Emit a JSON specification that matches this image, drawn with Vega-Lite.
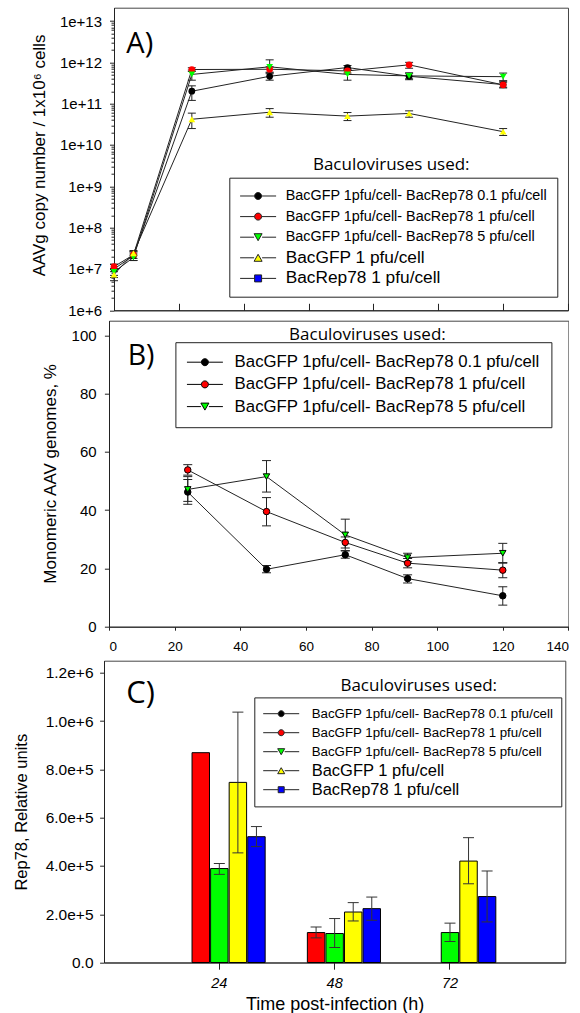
{
  "$schema": "https://vega.github.io/schema/vega-lite/v6.json",
  "padding": {"left": 0, "top": 6.7, "right": 0, "bottom": 0},
  "background": "white",
  "config": {
    "view": {"stroke": "#444", "strokeWidth": 1},
    "axis": {"grid": false, "domainColor": "#222", "tickColor": "#222", "labelColor": "#000", "titleColor": "#000", "labelFont": "Liberation Sans", "titleFont": "Liberation Sans", "titleFontWeight": "normal", "labelOverlap": false},
    "legend": {"labelFont": "Liberation Sans", "labelColor": "#000"},
    "text": {"font": "Open Sans", "color": "#000"}
  },
  "datasets": {
    "a": [
      {"t": 0, "s": "BacGFP 1pfu/cell- BacRep78 0.1 pfu/cell", "v": 1.0e7, "lo": 5.2e6, "hi": 1.3e7},
      {"t": 0, "s": "BacGFP 1pfu/cell- BacRep78 1 pfu/cell", "v": 1.14e7, "lo": 1.0e7, "hi": 1.3e7},
      {"t": 0, "s": "BacGFP 1pfu/cell- BacRep78 5 pfu/cell", "v": 8.5e6, "lo": 7.0e6, "hi": 1.0e7},
      {"t": 0, "s": "BacGFP 1 pfu/cell", "v": 7.3e6, "lo": 6.2e6, "hi": 8.6e6},
      {"t": 6, "s": "BacGFP 1pfu/cell- BacRep78 0.1 pfu/cell", "v": 2.1e7, "lo": 1.6e7, "hi": 2.6e7},
      {"t": 6, "s": "BacGFP 1pfu/cell- BacRep78 1 pfu/cell", "v": 2.2e7, "lo": 1.8e7, "hi": 2.6e7},
      {"t": 6, "s": "BacGFP 1pfu/cell- BacRep78 5 pfu/cell", "v": 1.9e7, "lo": 1.6e7, "hi": 2.3e7},
      {"t": 6, "s": "BacGFP 1 pfu/cell", "v": 2.4e7, "lo": 2.1e7, "hi": 2.8e7},
      {"t": 24, "s": "BacGFP 1pfu/cell- BacRep78 0.1 pfu/cell", "v": 2.0e11, "lo": 1.2e11, "hi": 2.7e11},
      {"t": 24, "s": "BacGFP 1pfu/cell- BacRep78 1 pfu/cell", "v": 6.7e11, "lo": 6.0e11, "hi": 7.4e11},
      {"t": 24, "s": "BacGFP 1pfu/cell- BacRep78 5 pfu/cell", "v": 5.1e11, "lo": 3.7e11, "hi": 6.5e11},
      {"t": 24, "s": "BacGFP 1 pfu/cell", "v": 4.2e10, "lo": 2.5e10, "hi": 5.9e10},
      {"t": 48, "s": "BacGFP 1pfu/cell- BacRep78 0.1 pfu/cell", "v": 4.6e11, "lo": 3.7e11, "hi": 5.6e11},
      {"t": 48, "s": "BacGFP 1pfu/cell- BacRep78 1 pfu/cell", "v": 6.8e11, "lo": 5.8e11, "hi": 7.8e11},
      {"t": 48, "s": "BacGFP 1pfu/cell- BacRep78 5 pfu/cell", "v": 7.8e11, "lo": 5.3e11, "hi": 1.15e12},
      {"t": 48, "s": "BacGFP 1 pfu/cell", "v": 6.2e10, "lo": 4.7e10, "hi": 7.6e10},
      {"t": 72, "s": "BacGFP 1pfu/cell- BacRep78 0.1 pfu/cell", "v": 7.5e11, "lo": 6.6e11, "hi": 8.4e11},
      {"t": 72, "s": "BacGFP 1pfu/cell- BacRep78 1 pfu/cell", "v": 6.2e11, "lo": 5.5e11, "hi": 7.0e11},
      {"t": 72, "s": "BacGFP 1pfu/cell- BacRep78 5 pfu/cell", "v": 5.1e11, "lo": 3.7e11, "hi": 6.5e11},
      {"t": 72, "s": "BacGFP 1 pfu/cell", "v": 5.0e10, "lo": 3.9e10, "hi": 6.1e10},
      {"t": 91, "s": "BacGFP 1pfu/cell- BacRep78 0.1 pfu/cell", "v": 4.6e11, "lo": 4.0e11, "hi": 5.3e11},
      {"t": 91, "s": "BacGFP 1pfu/cell- BacRep78 1 pfu/cell", "v": 8.7e11, "lo": 7.2e11, "hi": 1.0e12},
      {"t": 91, "s": "BacGFP 1pfu/cell- BacRep78 5 pfu/cell", "v": 4.7e11, "lo": 3.8e11, "hi": 5.6e11},
      {"t": 91, "s": "BacGFP 1 pfu/cell", "v": 5.8e10, "lo": 4.7e10, "hi": 6.7e10},
      {"t": 120, "s": "BacGFP 1pfu/cell- BacRep78 0.1 pfu/cell", "v": 2.9e11, "lo": 2.5e11, "hi": 3.3e11},
      {"t": 120, "s": "BacGFP 1pfu/cell- BacRep78 1 pfu/cell", "v": 2.85e11, "lo": 2.4e11, "hi": 3.5e11},
      {"t": 120, "s": "BacGFP 1pfu/cell- BacRep78 5 pfu/cell", "v": 4.5e11, "lo": 3.6e11, "hi": 5.5e11},
      {"t": 120, "s": "BacGFP 1 pfu/cell", "v": 2.1e10, "lo": 1.7e10, "hi": 2.5e10}
    ],
    "b": [
      {"t": 24, "s": "BacGFP 1pfu/cell- BacRep78 0.1 pfu/cell", "v": 46.2, "lo": 42, "hi": 50.5},
      {"t": 24, "s": "BacGFP 1pfu/cell- BacRep78 1 pfu/cell", "v": 53.8, "lo": 52, "hi": 55.6},
      {"t": 24, "s": "BacGFP 1pfu/cell- BacRep78 5 pfu/cell", "v": 47.1, "lo": 43, "hi": 51.5},
      {"t": 48, "s": "BacGFP 1pfu/cell- BacRep78 0.1 pfu/cell", "v": 19.7, "lo": 18.5, "hi": 21},
      {"t": 48, "s": "BacGFP 1pfu/cell- BacRep78 1 pfu/cell", "v": 39.5, "lo": 34.6, "hi": 44.3},
      {"t": 48, "s": "BacGFP 1pfu/cell- BacRep78 5 pfu/cell", "v": 51.5, "lo": 46.2, "hi": 57},
      {"t": 72, "s": "BacGFP 1pfu/cell- BacRep78 0.1 pfu/cell", "v": 24.7, "lo": 23.5, "hi": 26},
      {"t": 72, "s": "BacGFP 1pfu/cell- BacRep78 1 pfu/cell", "v": 28.9, "lo": 27, "hi": 30.8},
      {"t": 72, "s": "BacGFP 1pfu/cell- BacRep78 5 pfu/cell", "v": 31.5, "lo": 26.1, "hi": 36.9},
      {"t": 91, "s": "BacGFP 1pfu/cell- BacRep78 0.1 pfu/cell", "v": 16.5, "lo": 15, "hi": 17.8},
      {"t": 91, "s": "BacGFP 1pfu/cell- BacRep78 1 pfu/cell", "v": 21.8, "lo": 20.2, "hi": 23.4},
      {"t": 91, "s": "BacGFP 1pfu/cell- BacRep78 5 pfu/cell", "v": 23.7, "lo": 22.3, "hi": 25.2},
      {"t": 120, "s": "BacGFP 1pfu/cell- BacRep78 0.1 pfu/cell", "v": 10.6, "lo": 7.4, "hi": 13.7},
      {"t": 120, "s": "BacGFP 1pfu/cell- BacRep78 1 pfu/cell", "v": 19.4, "lo": 16.8, "hi": 22},
      {"t": 120, "s": "BacGFP 1pfu/cell- BacRep78 5 pfu/cell", "v": 25.2, "lo": 21.8, "hi": 28.6}
    ],
    "c": [
      {"t": "24", "s": "BacGFP 1pfu/cell- BacRep78 1 pfu/cell", "v": 869000, "lo": null, "hi": null},
      {"t": "24", "s": "BacGFP 1pfu/cell- BacRep78 5 pfu/cell", "v": 389000, "lo": 365000, "hi": 410000},
      {"t": "24", "s": "BacGFP 1 pfu/cell", "v": 746000, "lo": 454000, "hi": 1037000},
      {"t": "24", "s": "BacRep78 1 pfu/cell", "v": 521000, "lo": 480000, "hi": 563000},
      {"t": "48", "s": "BacGFP 1pfu/cell- BacRep78 1 pfu/cell", "v": 124000, "lo": 102000, "hi": 147000},
      {"t": "48", "s": "BacGFP 1pfu/cell- BacRep78 5 pfu/cell", "v": 120000, "lo": 62000, "hi": 182000},
      {"t": "48", "s": "BacGFP 1 pfu/cell", "v": 209000, "lo": 172000, "hi": 248000},
      {"t": "48", "s": "BacRep78 1 pfu/cell", "v": 223000, "lo": 175000, "hi": 271000},
      {"t": "72", "s": "BacGFP 1pfu/cell- BacRep78 5 pfu/cell", "v": 124000, "lo": 87000, "hi": 163000},
      {"t": "72", "s": "BacGFP 1 pfu/cell", "v": 420000, "lo": 326000, "hi": 517000},
      {"t": "72", "s": "BacRep78 1 pfu/cell", "v": 273000, "lo": 168000, "hi": 379000}
    ]
  },
  "spacing": 0,
  "resolve": {"scale": {"fill": "independent", "shape": "independent"}},
  "vconcat": [
    {
      "spacing": 0,
      "resolve": {"scale": {"fill": "independent", "shape": "independent"}},
      "hconcat": [
        {"width": 29.7, "height": 311.6, "data": {"values": []}, "mark": "point", "encoding": {}, "view": {"stroke": null}},
        {
          "width": 454, "height": 302.6,
          "resolve": {"axis": {"y": "independent"}},
          "layer": [
            {
              "data": {"name": "a"},
              "mark": {"type": "line", "color": "#222", "strokeWidth": 1},
              "encoding": {
                "x": {"field": "t", "type": "quantitative", "scale": {"domain": [0, 140], "nice": false, "zero": false},
                      "axis": {"values": [0, 20, 40, 60, 80, 100, 120, 140], "labels": false, "tickSize": -7, "title": null}},
                "y": {"field": "v", "type": "quantitative", "scale": {"type": "log", "domain": [1e6, 2.1e13], "nice": false},
                      "axis": {"values": [1e6, 1e7, 1e8, 1e9, 1e10, 1e11, 1e12, 1e13], "labelExpr": "format(datum.value, '~e')",
                               "labelFontSize": 15, "labelPadding": 8, "tickSize": 4.5,
                               "title": "AAVg copy number / 1x10⁶ cells", "titleFontSize": 17, "titleX": -69.4, "titleY": 147.3,
                               "titleAngle": 270, "titleAlign": "center", "titleBaseline": "alphabetic"}},
                "detail": {"field": "s"}
              }
            },
            {
              "data": {"name": "a"},
              "mark": {"type": "rule", "color": "#222", "strokeWidth": 1},
              "encoding": {"x": {"field": "t", "type": "quantitative"},
                           "y": {"field": "lo", "type": "quantitative",
                                 "axis": {"orient": "left", "values": [2e6,3e6,4e6,5e6,6e6,7e6,8e6,9e6,2e7,3e7,4e7,5e7,6e7,7e7,8e7,9e7,2e8,3e8,4e8,5e8,6e8,7e8,8e8,9e8,2e9,3e9,4e9,5e9,6e9,7e9,8e9,9e9,2e10,3e10,4e10,5e10,6e10,7e10,8e10,9e10,2e11,3e11,4e11,5e11,6e11,7e11,8e11,9e11,2e12,3e12,4e12,5e12,6e12,7e12,8e12,9e12],
                                          "labels": false, "domain": false, "tickSize": 3, "title": null}},
                           "y2": {"field": "hi"}}
            },
            {
              "data": {"name": "a"},
              "mark": {"type": "tick", "orient": "horizontal", "size": 8, "thickness": 1, "color": "#222", "opacity": 1},
              "encoding": {"x": {"field": "t", "type": "quantitative"}, "y": {"field": "lo", "type": "quantitative", "axis": null}}
            },
            {
              "data": {"name": "a"},
              "mark": {"type": "tick", "orient": "horizontal", "size": 8, "thickness": 1, "color": "#222", "opacity": 1},
              "encoding": {"x": {"field": "t", "type": "quantitative"}, "y": {"field": "hi", "type": "quantitative", "axis": null}}
            },
            {
              "data": {"name": "a"},
              "mark": {"type": "point", "filled": true, "size": 45, "opacity": 1, "strokeWidth": 0},
              "encoding": {
                "x": {"field": "t", "type": "quantitative"},
                "y": {"field": "v", "type": "quantitative", "axis": null},
                "fill": {"field": "s", "type": "nominal",
                  "scale": {"domain": ["BacGFP 1pfu/cell- BacRep78 0.1 pfu/cell", "BacGFP 1pfu/cell- BacRep78 1 pfu/cell", "BacGFP 1pfu/cell- BacRep78 5 pfu/cell", "BacGFP 1 pfu/cell", "BacRep78 1 pfu/cell"],
                            "range": ["#000000", "#ff0000", "#00ff00", "#ffff00", "#0000ff"]},
                  "legend": {"orient": "none", "legendX": 115.3, "legendY": 170, "title": null, "direction": "vertical",
                    "strokeColor": "#222", "padding": 9.3, "clipHeight": 18, "symbolSize": 4, "symbolStrokeColor": "#222", "symbolStrokeWidth": 1,
                    "symbolOffset": 12.3, "labelOffset": 20.4, "rowPadding": 2.6, "labelFontSize": 14.4, "labelLimit": 500,
                    "encoding": {
                      "labels": {"fontSize": {"value": {"expr": "datum.index >= 3 ? 17.3 : 14.4"}}},
                      "symbols": {"shape": {"value": {"expr": "['M-18,0H-3.5M3.5,0H18M-3.5,0A3.5,3.5,0,1,0,3.5,0A3.5,3.5,0,1,0,-3.5,0Z','M-18,0H-3.5M3.5,0H18M-3.5,0A3.5,3.5,0,1,0,3.5,0A3.5,3.5,0,1,0,-3.5,0Z','M-18,0H-4M4,0H18M-4,-3.5L4,-3.5L0,3.5Z','M-18,0H-4M4,0H18M-4,3.5L4,3.5L0,-3.5Z','M-18,0H-3.5M3.5,0H18M-3.5,-3.5H3.5V3.5H-3.5Z'][datum.index]"}}}
                    }}},
                "shape": {"field": "s", "type": "nominal",
                  "scale": {"domain": ["BacGFP 1 pfu/cell", "BacGFP 1pfu/cell- BacRep78 0.1 pfu/cell", "BacGFP 1pfu/cell- BacRep78 1 pfu/cell", "BacGFP 1pfu/cell- BacRep78 5 pfu/cell", "BacRep78 1 pfu/cell"],
                            "range": ["triangle-up", "circle", "circle", "triangle-down", "square"]},
                  "legend": null}
              }
            },
            {
              "data": {"values": [{}]},
              "mark": {"type": "text", "fontSize": 17, "align": "center", "baseline": "alphabetic"},
              "encoding": {"x": {"datum": 85.5}, "y": {"datum": 2.46e9, "axis": null}, "text": {"value": "Baculoviruses used:"}}
            },
            {
              "data": {"values": [{}]},
              "mark": {"type": "text", "fontSize": 29, "align": "left", "baseline": "alphabetic"},
              "encoding": {"x": {"datum": 3.8}, "y": {"datum": 1.73e12, "axis": null}, "text": {"value": "A)"}}
            }
          ]
        }
      ]
    },
    {
      "spacing": 0,
      "resolve": {"scale": {"fill": "independent", "shape": "independent"}},
      "hconcat": [
        {"width": 39.7, "height": 338.2, "data": {"values": []}, "mark": "point", "encoding": {}, "view": {"stroke": null}},
        {
          "width": 459.4, "height": 306,
          "layer": [
            {
              "data": {"name": "b"},
              "mark": {"type": "line", "color": "#222", "strokeWidth": 1},
              "encoding": {
                "x": {"field": "t", "type": "quantitative", "scale": {"domain": [0, 140], "nice": false, "zero": false},
                      "axis": {"values": [0, 20, 40, 60, 80, 100, 120, 140], "labelFontSize": 13.5, "tickSize": 3.5, "labelPadding": 9, "title": null}},
                "y": {"field": "v", "type": "quantitative", "scale": {"domain": [0, 105], "nice": false},
                      "axis": {"values": [0, 20, 40, 60, 80, 100], "labelFontSize": 15, "labelPadding": 8.3, "tickSize": 4.6,
                               "title": "Monomeric AAV genomes, %", "titleFontSize": 17, "titleX": -54, "titleY": 152.7,
                               "titleAngle": 270, "titleAlign": "center", "titleBaseline": "alphabetic"}},
                "detail": {"field": "s"}
              }
            },
            {
              "data": {"name": "b"},
              "mark": {"type": "rule", "color": "#222", "strokeWidth": 1},
              "encoding": {"x": {"field": "t", "type": "quantitative"}, "y": {"field": "lo", "type": "quantitative"}, "y2": {"field": "hi"}}
            },
            {
              "data": {"name": "b"},
              "mark": {"type": "tick", "orient": "horizontal", "size": 9, "thickness": 1, "color": "#222", "opacity": 1},
              "encoding": {"x": {"field": "t", "type": "quantitative"}, "y": {"field": "lo", "type": "quantitative"}}
            },
            {
              "data": {"name": "b"},
              "mark": {"type": "tick", "orient": "horizontal", "size": 9, "thickness": 1, "color": "#222", "opacity": 1},
              "encoding": {"x": {"field": "t", "type": "quantitative"}, "y": {"field": "hi", "type": "quantitative"}}
            },
            {
              "data": {"name": "b"},
              "mark": {"type": "point", "filled": true, "size": 42, "opacity": 1, "stroke": "#000", "strokeWidth": 1},
              "encoding": {
                "x": {"field": "t", "type": "quantitative"},
                "y": {"field": "v", "type": "quantitative"},
                "fill": {"field": "s", "type": "nominal",
                  "scale": {"domain": ["BacGFP 1pfu/cell- BacRep78 0.1 pfu/cell", "BacGFP 1pfu/cell- BacRep78 1 pfu/cell", "BacGFP 1pfu/cell- BacRep78 5 pfu/cell"],
                            "range": ["#000000", "#ff0000", "#00ff00"]},
                  "legend": {"orient": "none", "legendX": 66.4, "legendY": 21.5, "title": null, "direction": "vertical",
                    "strokeColor": "#222", "padding": 11, "clipHeight": 18, "symbolSize": 4, "symbolStrokeColor": "#000", "symbolStrokeWidth": 1,
                    "symbolOffset": 10.1, "labelOffset": 21.3, "rowPadding": 4.2, "labelFontSize": 16.8, "labelLimit": 500,
                    "encoding": {
                      "symbols": {"shape": {"value": {"expr": "['M-18,0H-3.5M3.5,0H18M-3.5,0A3.5,3.5,0,1,0,3.5,0A3.5,3.5,0,1,0,-3.5,0Z','M-18,0H-3.5M3.5,0H18M-3.5,0A3.5,3.5,0,1,0,3.5,0A3.5,3.5,0,1,0,-3.5,0Z','M-18,0H-4M4,0H18M-4,-3.5L4,-3.5L0,3.5Z'][datum.index]"}}}
                    }}},
                "shape": {"field": "s", "type": "nominal",
                  "scale": {"domain": ["BacGFP 1pfu/cell- BacRep78 5 pfu/cell", "BacGFP 1pfu/cell- BacRep78 0.1 pfu/cell", "BacGFP 1pfu/cell- BacRep78 1 pfu/cell"],
                            "range": ["triangle-down", "circle", "circle"]},
                  "legend": null}
              }
            },
            {
              "data": {"values": [{}]},
              "mark": {"type": "text", "fontSize": 17, "align": "center", "baseline": "alphabetic"},
              "encoding": {"x": {"datum": 78.75}, "y": {"datum": 98.5}, "text": {"value": "Baculoviruses used:"}}
            },
            {
              "data": {"values": [{}]},
              "mark": {"type": "text", "fontSize": 28.5, "align": "left", "baseline": "alphabetic"},
              "encoding": {"x": {"datum": 5.7}, "y": {"datum": 89.9}, "text": {"value": "B)"}}
            }
          ]
        }
      ]
    },
    {
      "spacing": 0,
      "resolve": {"scale": {"fill": "independent", "shape": "independent"}},
      "hconcat": [
        {"width": 11.8, "height": 1, "data": {"values": []}, "mark": "point", "encoding": {}, "view": {"stroke": null}},
        {
          "width": 461.3, "height": 301.8,
          "resolve": {"scale": {"x": "independent"}},
          "layer": [
            {
              "data": {"name": "c"},
              "encoding": {
                "x": {"field": "t", "type": "nominal", "scale": {"domain": ["24", "48", "72"], "paddingInner": 0.205, "paddingOuter": 0.6025},
                      "axis": {"labelAngle": 0, "labelFontSize": 14.5, "labelFontStyle": "italic", "tickSize": 6.7, "labelPadding": 7.3,
                               "title": "Time post-infection (h)", "titleFontSize": 18, "titlePadding": 6}},
                "xOffset": {"field": "s", "type": "nominal", "scale": {"domain": ["BacGFP 1pfu/cell- BacRep78 0.1 pfu/cell", "BacGFP 1pfu/cell- BacRep78 1 pfu/cell", "BacGFP 1pfu/cell- BacRep78 5 pfu/cell", "BacGFP 1 pfu/cell", "BacRep78 1 pfu/cell"], "paddingInner": 0.06, "paddingOuter": 0}},
                "y": {"field": "v", "type": "quantitative", "scale": {"domain": [0, 1250000], "nice": false},
                      "axis": {"values": [0, 200000, 400000, 600000, 800000, 1000000, 1200000],
                               "labelExpr": "datum.value == 0 ? '0.0' : format(datum.value, '.1e')",
                               "labelFontSize": 15.5, "labelPadding": 6.6, "tickSize": 4.4,
                               "title": "Rep78, Relative units", "titleFontSize": 16.5, "titleX": -77.7, "titleY": 151,
                               "titleAngle": 270, "titleAlign": "center", "titleBaseline": "alphabetic"}}
              },
              "layer": [
                {
                  "mark": {"type": "bar", "stroke": "#000", "strokeWidth": 1},
                  "encoding": {
                    "fill": {"field": "s", "type": "nominal",
                      "scale": {"domain": ["BacGFP 1pfu/cell- BacRep78 0.1 pfu/cell", "BacGFP 1pfu/cell- BacRep78 1 pfu/cell", "BacGFP 1pfu/cell- BacRep78 5 pfu/cell", "BacGFP 1 pfu/cell", "BacRep78 1 pfu/cell"],
                                "range": ["#000000", "#ff0000", "#00ff00", "#ffff00", "#0000ff"]},
                      "legend": {"orient": "none", "legendX": 150.3, "legendY": 36.7, "title": null, "direction": "vertical",
                        "strokeColor": "#222", "padding": 7.3, "clipHeight": 18, "symbolSize": 4, "symbolStrokeColor": "#222", "symbolStrokeWidth": 1,
                        "symbolOffset": 12.95, "labelOffset": 23.85, "rowPadding": 1, "labelFontSize": 13.3, "labelLimit": 500,
                        "labelExpr": "datum.label + '\u00a0'",
                        "encoding": {
                          "labels": {"fontSize": {"value": {"expr": "datum.index >= 3 ? 16.5 : 13.3"}}},
                          "symbols": {"shape": {"value": {"expr": "['M-18,0H-3M3,0H18M-3,0A3,3,0,1,0,3,0A3,3,0,1,0,-3,0Z','M-18,0H-3M3,0H18M-3,0A3,3,0,1,0,3,0A3,3,0,1,0,-3,0Z','M-18,0H-3.5M3.5,0H18M-3.5,-3L3.5,-3L0,3Z','M-18,0H-3.5M3.5,0H18M-3.5,3L3.5,3L0,-3Z','M-18,0H-3M3,0H18M-3,-3H3V3H-3Z'][datum.index]"}}}
                        }}}
                  }
                },
                {
                  "mark": {"type": "rule", "color": "#333", "strokeWidth": 1},
                  "encoding": {"y": {"field": "lo", "type": "quantitative"}, "y2": {"field": "hi"}}
                },
                {
                  "mark": {"type": "tick", "orient": "horizontal", "size": 11, "thickness": 1, "color": "#333", "opacity": 1},
                  "encoding": {"y": {"field": "lo", "type": "quantitative"}}
                },
                {
                  "mark": {"type": "tick", "orient": "horizontal", "size": 11, "thickness": 1, "color": "#333", "opacity": 1},
                  "encoding": {"y": {"field": "hi", "type": "quantitative"}}
                }
              ]
            },
            {
              "data": {"values": [{}]},
              "mark": {"type": "text", "fontSize": 17, "align": "center", "baseline": "alphabetic"},
              "encoding": {"x": {"datum": 65.5, "type": "quantitative", "scale": {"domain": [0, 96], "nice": false, "zero": false}, "axis": null},
                           "y": {"datum": 1124000, "type": "quantitative"}, "text": {"value": "Baculoviruses used:"}}
            },
            {
              "data": {"values": [{}]},
              "mark": {"type": "text", "fontSize": 31, "align": "left", "baseline": "alphabetic"},
              "encoding": {"x": {"datum": 4.64, "type": "quantitative", "scale": {"domain": [0, 96], "nice": false, "zero": false}, "axis": null},
                           "y": {"datum": 1076000, "type": "quantitative"}, "text": {"value": "C)"}}
            }
          ]
        }
      ]
    }
  ]
}
